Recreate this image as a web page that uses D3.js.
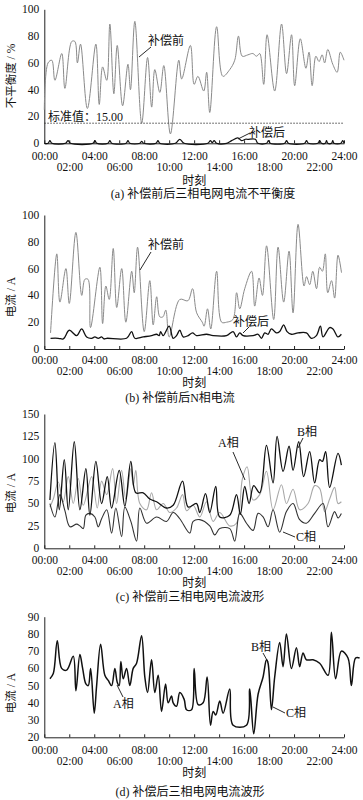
<!DOCTYPE html>
<html>
<head>
<meta charset="utf-8">
<script src="https://cdn.jsdelivr.net/npm/d3@7"></script>
<style>
  body { margin: 0; background: #fff; }
  text { font-family: "Liberation Serif", "Noto Sans CJK SC", serif; fill: #111; }
</style>
</head>
<body>
<svg id="chart"></svg>
<script>
// hour tick labels, shared by every panel
const hourTicks = [0, 2, 4, 6, 8, 10, 12, 14, 16, 18, 20, 22, 24];
const hourLabels = ["00:00", "02:00", "04:00", "06:00", "08:00", "10:00", "12:00",
                    "14:00", "16:00", "18:00", "20:00", "22:00", "24:00"];

// (a) unbalance before / after compensation
const aBeforeT = [0,0.3,0.6,0.85,1.4,1.65,2.2,2.45,2.65,2.9,3.45,4.13,4.4,4.67,5.0,5.25,5.57,5.84,6.27,6.7,6.9,7.25,7.8,8.27,8.6,8.85,9.25,9.57,10.1,10.77,11.0,11.7,12.0,12.3,12.77,13.0,13.25,13.8,14.3,14.85,15.25,15.55,15.85,16.3,16.7,17.0,17.25,17.57,17.84,18.45,19.0,19.4,19.8,20.05,20.5,20.95,21.2,21.45,21.75,22.0,22.25,22.45,22.7,23.1,23.45,23.7,24];
const aBeforeV = [25,60,62,47,67,41,76,76,60,74,26,74,29,57,47,89,37,73,28,59,40,91,15,64,27,55,38,58,7,62,48,73,44,50,39,53,23,87,50,55,62,80,65,66,67,65,67,44,81,39,89,52,81,43,78,56,68,43,65,61,66,60,70,59,53,68,62];
const aAfterT = [0,0.3,0.45,0.6,1.7,1.9,2.1,3.9,4.05,4.2,5.1,5.25,5.4,6.55,6.7,6.85,7.65,7.8,7.95,8.95,9.1,9.25,10.5,10.85,11.2,13.1,13.3,13.45,13.6,13.8,14.6,15.0,15.5,15.8,16.1,16.3,16.9,17.1,17.8,17.95,18.1,19.25,19.4,19.55,20.85,21.0,21.15,21.9,22.05,22.2,22.5,22.6,22.7,23.0,23.1,23.2,23.75,23.9,24];
const aAfterV = [0,0,2,0,0,2,0,0,2,0,0,2,0,0,2,0,0,1.5,0,0,2,0,0,3,0,0,2,0.5,2,0,0,2,4,2,3,3,3,0,0,2,0,0,2,0,0,2,0,0,2,0,0,2,0,0,2,0,0,2,0];
const aLimit = 15;

// (b) neutral current
const bBeforeT = [0.5,1.0,1.25,1.73,2.0,2.53,3.0,3.25,3.5,3.7,4.45,4.67,4.93,5.2,5.52,5.8,6.2,6.53,7.0,7.2,7.47,8.0,8.45,8.72,9.0,9.25,9.5,9.73,10.0,10.85,11.5,11.87,12.2,12.65,12.8,13.07,13.33,13.8,14.2,14.6,15.1,15.4,15.65,16.05,16.6,16.85,17.2,17.47,17.8,18.37,18.72,19.17,19.6,19.92,20.32,20.8,21.0,21.25,21.5,21.8,22.05,22.27,22.5,22.7,23.0,23.25,23.52,23.8];
const bBeforeV = [12,71,35,60,34,87,40,52,52,16,61,19,47,37,75,31,60,20,58,42,76,13,51,18,39,24,24,29,9,37,36,45,27,20,17,30,15,58,20,20,22,42,30,45,58,32,53,40,77,22,76,35,73,27,93,47,54,48,58,45,61,58,71,42,51,38,70,57];
const bAfterT = [0.5,1.12,1.52,2.0,2.59,2.99,3.39,3.79,4.05,4.32,4.59,4.77,4.99,6.59,6.99,7.25,7.92,8.59,8.99,9.2,9.31,9.52,10.0,10.32,10.59,10.85,11.12,11.52,11.87,12.19,12.99,13.52,14.59,15.12,15.39,15.65,15.92,16.72,17.12,17.39,17.65,17.92,18.19,18.59,18.85,19.17,19.44,19.79,20.32,20.99,21.39,21.79,22.11,22.32,22.85,23.12,23.52,23.79];
const bAfterV = [8,8,7.5,14,10,15,9,8,9,8,9,7.5,8,8,13,8,9,10,11,10,13,10,17,8,10,14,9,10,12,10,11,10,10,13,9,12,10,10,11,8,12,11,15,12,13,18,13,11,12,12,8,10,17,9,16,15,9,11];

// (c) three phase currents before compensation
const cPhaseAT = [0.45,0.72,1.12,1.52,1.92,2.32,2.72,3.12,3.79,4.24,4.59,5.0,5.47,5.79,6.19,6.53,6.93,7.12,7.33,7.65,8.19,8.59,8.99,9.52,10.05,10.59,11.07,11.39,11.92,12.45,12.99,13.52,14.05,14.85,15.39,15.87,16.24,16.72,17.25,17.79,18.32,18.99,19.39,19.92,20.45,21.12,21.65,22.05,22.45,22.85,23.25,23.52,23.79];
const cPhaseAV = [46,55,74,52,80,50,78,48,80,45,75,60,89,50,87,55,89,70,87,50,43,62,43,50,40,45,60,42,48,35,52,30,40,25,28,78,91,54,60,86,43,71,50,66,43,50,70,67,41,55,68,50,52];
const cPhaseBT = [0.45,0.85,1.2,1.6,1.92,2.4,2.85,3.33,3.65,4.13,4.59,5.04,5.39,6.0,6.45,6.93,7.33,7.92,8.45,8.99,9.79,10.32,11.07,11.52,12.19,12.45,12.91,13.25,13.73,14.05,14.85,15.39,15.7,16.05,16.4,16.77,17.25,17.79,18.32,18.64,19.12,19.6,19.92,20.37,20.77,21.25,21.65,22.05,22.27,22.53,22.85,23.52,23.79];
const cPhaseBV = [54,118,43,99,43,119,43,89,37,97,50,80,45,87,47,97,62,62,55,52,45,48,75,46,50,40,61,40,69,35,37,60,38,69,50,70,62,115,73,125,86,114,87,119,80,108,73,99,97,108,68,106,93];
const cPhaseCT = [0.45,0.85,1.25,1.65,2.05,2.59,2.85,3.12,3.33,3.65,4.05,4.32,4.59,5.0,5.39,5.73,6.19,6.45,6.93,7.39,7.65,8.19,8.99,9.79,10.32,10.85,11.65,11.92,12.45,13.25,13.65,14.05,14.85,15.25,15.65,16.19,16.72,17.12,17.52,17.92,18.32,18.85,19.39,19.92,20.45,20.99,21.65,22.32,22.72,23.25,23.52,23.79];
const cPhaseCV = [50,35,60,42,24,27,25,22,37,39,35,24,33,43,17,45,13,46,30,8,45,28,35,30,40,33,17,30,32,25,15,22,22,8,39,28,20,39,35,24,43,18,41,50,32,28,39,50,24,41,34,39];

// (d) three phase currents after compensation (phases overlap)
const dAfterT = [0.45,0.72,1.04,1.39,1.79,2.32,2.53,2.85,3.07,3.33,3.52,3.71,4.0,4.19,4.51,4.85,5.12,5.39,5.65,5.84,6.0,6.13,6.32,6.59,6.85,7.12,7.39,7.79,8.05,8.27,8.59,8.85,9.12,9.39,9.71,9.92,10.19,10.32,10.59,10.85,11.2,11.39,11.79,12.0,12.32,12.72,13.04,13.31,13.52,13.73,14.05,14.32,14.85,15.12,16.19,16.45,16.77,17.12,17.52,17.79,17.92,18.19,18.45,18.85,19.12,19.39,19.79,20.19,20.45,20.72,20.99,21.52,22.05,22.72,22.99,23.33,23.79,24.32,24.59,24.93,25.25];
const dAfterV = [54,57,76,60,59,67,47,68,60,51,50,60,34,50,74,56,53,50,60,52,50,64,54,60,50,60,63,79,55,46,65,46,56,35,51,40,44,40,38,46,42,36,36,60,39,40,55,27,35,33,41,34,48,27,27,48,22,45,55,65,63,36,55,75,61,80,60,72,61,69,65,65,63,56,81,54,70,66,50,66,66];

const W = 363, H = 800;
const svg = d3.select('#chart').attr('width', W).attr('height', H);
svg.append('rect').attr('width', W).attr('height', H).attr('fill', '#fff');

const xLeft = 44.3, xRight = 344;
const gray = '#8a8a8a';

function zip(t, v){ return t.map((h, i) => [h, v[i]]); }

function drawPanel(cfg){
    const x = d3.scaleLinear().domain([0, 24]).range([xLeft, xRight]);
    const y = d3.scaleLinear().domain(cfg.domain).range([cfg.bottom, cfg.top]);
    const g = svg.append('g');

    // y axis
    const ya = g.append('g')
      .attr('transform', `translate(${xLeft},0)`)
      .call(d3.axisLeft(y).tickValues(cfg.yTicks).tickSize(0).tickPadding(5));
    ya.select('.domain').attr('stroke', '#222');
    ya.selectAll('text').style('font-size', '11.5px').attr('dy', '0.3em');

    // x axis, labels on two staggered rows
    const xa = g.append('g')
      .attr('transform', `translate(0,${cfg.bottom})`)
      .call(d3.axisBottom(x).tickValues(hourTicks).tickSizeInner(-3).tickSizeOuter(0)
            .tickFormat((d, i) => hourLabels[i]));
    xa.select('.domain').attr('stroke', '#222');
    xa.selectAll('line').attr('stroke', '#222');
    xa.selectAll('text')
      .style('font-size', '11.5px')
      .attr('y', (d, i) => i % 2 === 0 ? cfg.row1 : cfg.row2)
      .attr('dy', '0.4em');

    g.append('text').attr('x', (xLeft + xRight) / 2).attr('y', cfg.bottom + cfg.titleOff)
      .attr('text-anchor', 'middle').attr('dy', '0.35em').style('font-size', '12px').text('时刻');
    g.append('text').attr('x', cfg.capX).attr('y', cfg.bottom + cfg.capOff)
      .attr('text-anchor', 'middle').attr('dy', '0.35em').style('font-size', '12px').text(cfg.caption);
    g.append('text')
      .attr('transform', `translate(11,${cfg.yLabelY}) rotate(-90)`)
      .attr('text-anchor', 'middle').attr('dy', '0.35em').style('font-size', '11.5px').text(cfg.yLabel);

    const line = d3.line().x(d => x(d[0])).y(d => y(d[1])).curve(d3.curveCatmullRom.alpha(0.5));
    cfg.series.forEach(s => {
        g.append('path').datum(zip(s.t, s.v))
          .attr('fill', 'none').attr('stroke', s.color).attr('stroke-width', s.width)
          .attr('d', line);
    });

    if (cfg.extra) cfg.extra(g, x, y);

    cfg.notes.forEach(n => {
        g.append('line').attr('x1', n.lx1).attr('y1', n.ly1).attr('x2', n.lx2).attr('y2', n.ly2)
          .attr('stroke', '#111').attr('stroke-width', 0.9);
        g.append('text').attr('x', n.tx).attr('y', n.ty).attr('dy', '0.35em')
          .style('font-size', '12px').text(n.text);
    });
}

drawPanel({
    domain: [0, 100], yTicks: [0, 20, 40, 60, 80, 100], top: 9.3, bottom: 143.3,
    row1: 12, row2: 23, titleOff: 37, capOff: 50, capX: 203,
    caption: '(a)  补偿前后三相电网电流不平衡度', yLabel: '不平衡度 / %', yLabelY: 76,
    series: [
        {t: aBeforeT, v: aBeforeV, color: gray, width: 1},
        {t: aAfterT, v: aAfterV, color: '#111', width: 1.2}
    ],
    extra: (g, x, y) => {
        g.append('line').attr('x1', x(0)).attr('x2', x(24)).attr('y1', y(aLimit)).attr('y2', y(aLimit))
          .attr('stroke', '#333').attr('stroke-width', 0.9).attr('stroke-dasharray', '1.5,1.5');
        g.append('text').attr('x', 48).attr('y', y(aLimit) - 6).attr('dy', '0.35em')
          .style('font-size', '12px').text('标准值：15.00');
    },
    notes: [
        {text: '补偿前', tx: 148, ty: 41, lx1: 139, ly1: 57, lx2: 151, ly2: 47},
        {text: '补偿后', tx: 249, ty: 133, lx1: 238, ly1: 139, lx2: 250, ly2: 133}
    ]
});

drawPanel({
    domain: [0, 100], yTicks: [0, 20, 40, 60, 80, 100], top: 215, bottom: 349,
    row1: 10.3, row2: 21.7, titleOff: 34, capOff: 49, capX: 180,
    caption: '(b)  补偿前后N相电流', yLabel: '电流 / A', yLabelY: 297,
    series: [
        {t: bBeforeT, v: bBeforeV, color: gray, width: 1},
        {t: bAfterT, v: bAfterV, color: '#111', width: 1.3}
    ],
    notes: [
        {text: '补偿前', tx: 148, ty: 245, lx1: 140, ly1: 270, lx2: 151, ly2: 252},
        {text: '补偿后', tx: 233, ty: 322, lx1: 243, ly1: 333, lx2: 249, ly2: 327}
    ]
});

drawPanel({
    domain: [0, 150], yTicks: [0, 25, 50, 75, 100, 125, 150], top: 414, bottom: 548.3,
    row1: 11, row2: 22.4, titleOff: 34.4, capOff: 48.4, capX: 190,
    caption: '(c)  补偿前三相电网电流波形', yLabel: '电流 / A', yLabelY: 493,
    series: [
        {t: cPhaseAT, v: cPhaseAV, color: '#a8a8a8', width: 1.1},
        {t: cPhaseCT, v: cPhaseCV, color: '#333', width: 1.1},
        {t: cPhaseBT, v: cPhaseBV, color: '#111', width: 1.3}
    ],
    notes: [
        {text: 'A相', tx: 218, ty: 443, lx1: 233, ly1: 452, lx2: 245, ly2: 480},
        {text: 'B相', tx: 297, ty: 432, lx1: 303, ly1: 438, lx2: 298, ly2: 448},
        {text: 'C相', tx: 296, ty: 537, lx1: 283, ly1: 532, lx2: 295, ly2: 537}
    ]
});

drawPanel({
    domain: [20, 90], yTicks: [20, 30, 40, 50, 60, 70, 80, 90], top: 616.7, bottom: 737.3,
    row1: 12, row2: 22.7, titleOff: 35.4, capOff: 54.4, capX: 190,
    caption: '(d)  补偿后三相电网电流波形', yLabel: '电流 / A', yLabelY: 693,
    series: [
        {t: dAfterT, v: dAfterV, color: '#111', width: 1.5}
    ],
    notes: [
        {text: 'A相', tx: 113, ty: 704, lx1: 117, ly1: 685, lx2: 123, ly2: 697},
        {text: 'B相', tx: 251, ty: 647, lx1: 263, ly1: 653, lx2: 268, ly2: 662},
        {text: 'C相', tx: 286, ty: 713, lx1: 273, ly1: 707, lx2: 285, ly2: 713}
    ]
});
</script>
</body>
</html>
